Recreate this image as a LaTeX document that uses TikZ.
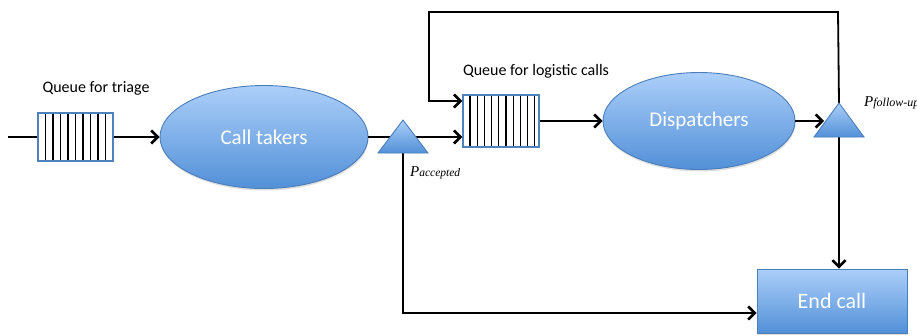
\documentclass[tikz,border=0pt]{standalone}
\usepackage{fontspec}
\setmainfont{Carlito}
\newfontfamily\tnr{Liberation Serif}
\usetikzlibrary{arrows.meta,shapes.geometric,shadows}
\definecolor{topblue}{RGB}{172,207,249}
\definecolor{botblue}{RGB}{82,144,216}
\definecolor{edgeblue}{RGB}{74,126,187}
\definecolor{qedge}{RGB}{79,129,189}
\begin{document}
\begin{tikzpicture}[x=1pt,y=-1pt,
  conn/.style={line width=1.8pt,draw=black},
  arr/.style={conn,-{Straight Barb[length=6.5pt,width=13pt,line width=2.6pt]}},
  blob/.style={draw=edgeblue,line width=0.9pt,top color=topblue,bottom color=botblue,
    text=white,inner sep=0pt,
    drop shadow={opacity=0.25,shadow xshift=0.5pt,shadow yshift=-2pt}},
  tri/.style={draw=edgeblue,line width=0.9pt,top color=topblue,bottom color=botblue},
  queue/.style={draw=qedge,line width=1.4pt,fill=white,inner sep=0pt},
  qline/.style={line width=1.3pt,draw=black},
  lbl/.style={font=\fontsize{16}{16}\selectfont,inner sep=0pt}
]
\useasboundingbox (0,0) rectangle (917,335);
\fill[white] (0,0) rectangle (917,335);

% nodes
\node[queue,minimum width=75pt,minimum height=48pt] (q1) at (75.5,137) {};
\foreach \i in {1,...,9} \draw[qline] (38+7.5*\i,113.7) -- (38+7.5*\i,160.3);
\node[lbl] (lq1) at (96,88) {Queue for triage};

\node[blob,ellipse,minimum width=208pt,minimum height=103pt,
  font=\fontsize{21}{21}\selectfont] (ct) at (264,137) {Call takers};

\node[queue,minimum width=76pt,minimum height=52pt] (q2) at (501,121) {};
\foreach \i in {0,...,9} \draw[qline] (470+7.2*\i,95.7) -- (470+7.2*\i,146.3);
\node[lbl] (lq2) at (536,71) {Queue for logistic calls};

\node[blob,ellipse,minimum width=192pt,minimum height=97pt,
  font=\fontsize{21}{21}\selectfont] (disp) at (699,121) {Dispatchers};

\node[blob,rectangle,minimum width=150pt,minimum height=64pt,
  font=\fontsize{22}{22}\selectfont] (ec) at (832,301) {End call};

% coordinates
\coordinate (in) at (8,137);
\coordinate (t1apex) at (403,120);
\coordinate (t1bot) at (403,153);
\coordinate (t2apex) at (839,103);
\coordinate (t2bot) at (839,137);
\coordinate (t2in) at (824,121);
\coordinate (topR) at (838,12);
\coordinate (topL) at (429,12);
\coordinate (q2in) at ([yshift=20pt]q2.west);
\coordinate (q2low) at ([yshift=-16pt]q2.west);
\coordinate (ecin) at ([yshift=-12pt]ec.west);

% connectors
\draw[conn] (in) -- (q1.west);
\draw[arr] (q1.east) -- (ct.west);
\draw[arr] (ct.east) -- (ct.east -| q2low);
\draw[arr] (q2.east) -- (disp.west);
\draw[arr] (disp.east) -- (t2in);
\draw[arr] (t2apex) -- (topR) -- (topL) |- (q2in);
\draw[arr] (t1bot) |- (ecin);
\draw[arr] (t2bot) -- (t2bot |- ec.north);

% triangles
\draw[tri] (378,153) -- (t1apex) -- (428,153) -- cycle;
\draw[tri] (814,137) -- (t2apex) -- (864,137) -- cycle;

% probability labels
\node[anchor=base west,inner sep=0pt] (pa) at (410,176)
  {\tnr\itshape{\fontsize{15}{15}\selectfont P}{\fontsize{11.5}{11.5}\selectfont accepted}};
\node[anchor=base west,inner sep=0pt] (pf) at (864,106)
  {\tnr\itshape{\fontsize{15}{15}\selectfont P}{\fontsize{12}{12}\selectfont follow-up}};
\end{tikzpicture}
\end{document}
